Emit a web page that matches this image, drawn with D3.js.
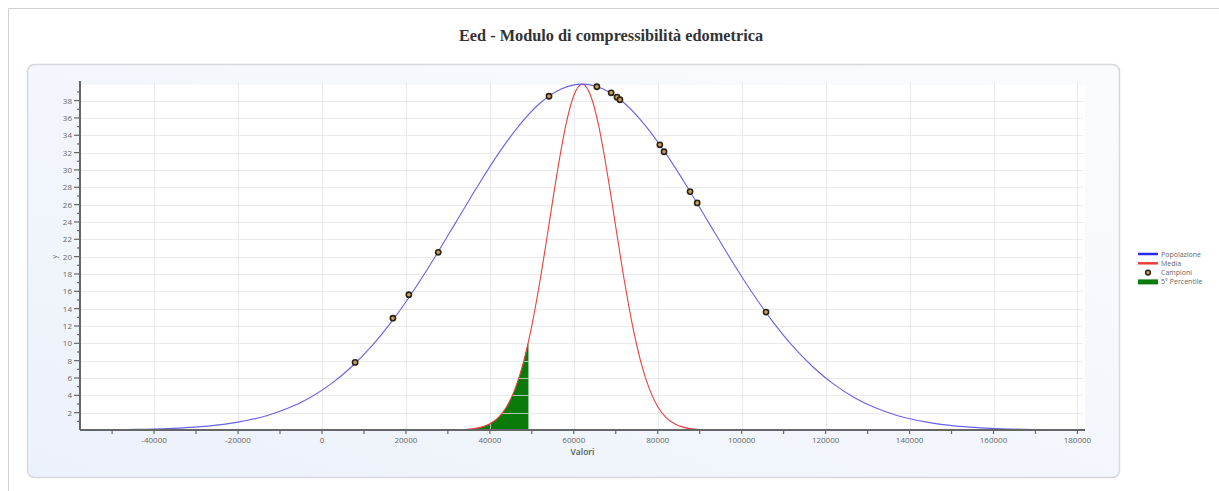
<!DOCTYPE html>
<html>
<head>
<meta charset="utf-8">
<style>
  body { margin: 0; background: #fff; }
  svg { display: block; font-family: "Open Sans", sans-serif; }
</style>
</head>
<body>
<svg width="1219" height="491"></svg>
<script src="https://d3js.org/d3.v7.min.js"></script>
<script>

// Popolazione (blue curve)
var popX = [-47000, -43000, -38000, -33000, -28000, -23000, -18000, -13000, -8000, -3000,
            2000, 7000, 12000, 17000, 22000, 27000, 32000, 37000, 42000, 47000, 52000, 57000,
            62000, 67000, 72000, 77000, 82000, 87000, 92000, 97000, 102000, 107000, 112000,
            117000, 122000, 127000, 132000, 137000, 142000, 147000, 152000, 157000, 162000,
            167000, 171000];
var popY = [0.05, 0.08, 0.14, 0.25, 0.42, 0.68, 1.09, 1.68, 2.53, 3.70,
            5.26, 7.27, 9.76, 12.76, 16.21, 20.02, 24.04, 28.06, 31.85, 35.15, 37.72, 39.34,
            39.9, 39.34, 37.72, 35.15, 31.85, 28.06, 24.04, 20.02, 16.21, 12.76, 9.76,
            7.27, 5.26, 3.70, 2.53, 1.68, 1.09, 0.68, 0.42, 0.25, 0.14,
            0.08, 0.05];

// Media (red curve)
var mediaX = [34000, 36000, 38000, 40000, 42000, 44000, 46000, 48000, 50000, 52000, 54000,
              56000, 58000, 60000, 62000, 64000, 66000, 68000, 70000, 72000, 74000, 76000,
              78000, 80000, 82000, 84000, 86000, 88000, 90000];
var mediaY = [0.06, 0.14, 0.33, 0.71, 1.43, 2.69, 4.74, 7.80, 12.03, 17.36, 23.42,
              29.57, 34.93, 38.59, 39.9, 38.59, 34.93, 29.57, 23.42, 17.36, 12.03, 7.80,
              4.74, 2.69, 1.43, 0.71, 0.33, 0.14, 0.06];

// 5° percentile (green area)
var pctX = [34000, 36000, 38000, 40000, 42000, 44000, 46000, 48000, 49200];
var pctY = [0.06, 0.14, 0.33, 0.71, 1.43, 2.69, 4.74, 7.80, 10.2];

// Campioni
var sampleX = [7900, 16900, 20700, 27700, 54100, 65500, 68900, 70300, 71000, 80500, 81500, 87700, 89400, 105800];
var sampleY = [7.8, 12.9, 15.6, 20.5, 38.5, 39.6, 38.9, 38.4, 38.1, 32.9, 32.1, 27.5, 26.2, 13.6];

var xTicks = d3.range(-40000, 180001, 20000);
var xMinor = d3.range(-50000, 180001, 10000);
var yTicks = d3.range(2, 39, 2);
var yMinor = d3.range(1, 40, 1);

var legendItems = ["Popolazione", "Media", "Campioni", "5° Percentile"];

var svg = d3.select("svg");

// outer frame
svg.append("path")
    .attr("d", "M8.5,491V8.5H1219")
    .attr("fill", "none")
    .attr("stroke", "#d0d0d0");

svg.append("text")
    .attr("x", 611).attr("y", 41)
    .attr("text-anchor", "middle")
    .style("font-family", "'Liberation Serif', serif")
    .style("font-weight", "bold")
    .style("font-size", "16.3px")
    .attr("fill", "#333")
    .text("Eed - Modulo di compressibilità edometrica");

var defs = svg.append("defs");
var grad = defs.append("linearGradient").attr("id", "bg")
    .attr("x1", "0").attr("y1", "1").attr("x2", "1").attr("y2", "0");
grad.append("stop").attr("offset", "0%").attr("stop-color", "#ecf2fb");
grad.append("stop").attr("offset", "100%").attr("stop-color", "#fafbfd");

svg.append("rect")
    .attr("x", 27.5).attr("y", 64.5)
    .attr("width", 1092).attr("height", 413)
    .attr("rx", 7)
    .attr("fill", "url(#bg)")
    .attr("stroke", "#d6d8dc")
    .attr("stroke-width", 1.5);

var plotL = 80, plotR = 1085, plotT = 85, plotB = 430;

var x = d3.scaleLinear().domain([-57650, 181800]).range([plotL, plotR]);
var y = d3.scaleLinear().domain([0, 39.8]).range([plotB, plotT]);

svg.append("rect")
    .attr("x", plotL).attr("y", plotT)
    .attr("width", plotR - plotL).attr("height", plotB - plotT)
    .attr("fill", "#fff");

// 5th percentile area
var area = d3.area()
    .x(function(d, i) { return x(pctX[i]); })
    .y0(y(0))
    .y1(function(d, i) { return y(pctY[i]); })
    .curve(d3.curveMonotoneX);

svg.append("path")
    .attr("d", area(pctX))
    .attr("fill", "#0a7a0a");

// grid
var grid = svg.append("g").attr("stroke", "#e2e4e8").attr("stroke-opacity", 0.75);
grid.selectAll(".h").data(yTicks).enter().append("line")
    .attr("x1", plotL).attr("x2", plotR - 2)
    .attr("y1", function(d) { return Math.round(y(d)) + 0.5; })
    .attr("y2", function(d) { return Math.round(y(d)) + 0.5; });
grid.selectAll(".v").data(xTicks).enter().append("line")
    .attr("y1", plotT - 3).attr("y2", plotB)
    .attr("x1", function(d) { return Math.round(x(d)) + 0.5; })
    .attr("x2", function(d) { return Math.round(x(d)) + 0.5; });

var line = d3.line()
    .x(function(d) { return x(d[0]); })
    .y(function(d) { return y(d[1]); })
    .curve(d3.curveMonotoneX);

svg.append("path")
    .datum(mediaX.map(function(v, i) { return [v, mediaY[i]]; }))
    .attr("d", line)
    .attr("fill", "none")
    .attr("stroke", "#e8403a")
    .attr("stroke-width", 1.1);

svg.append("path")
    .datum(popX.map(function(v, i) { return [v, popY[i]]; }))
    .attr("d", line)
    .attr("fill", "none")
    .attr("stroke", "#6a62e8")
    .attr("stroke-width", 1.1);

svg.selectAll(".pt")
    .data(sampleX)
    .enter().append("circle")
    .attr("cx", function(d) { return x(d); })
    .attr("cy", function(d, i) { return y(sampleY[i]); })
    .attr("r", 2.6)
    .attr("fill", "#c9a35a")
    .attr("stroke", "#2a2216")
    .attr("stroke-width", 1.6);

// axes
var xAxis = svg.append("g")
    .attr("transform", "translate(0," + plotB + ")");
xAxis.append("line")
    .attr("x1", plotL).attr("x2", plotR)
    .attr("stroke", "#666").attr("stroke-width", 2);
xAxis.selectAll(".mt").data(xMinor).enter().append("line")
    .attr("x1", function(d) { return x(d); })
    .attr("x2", function(d) { return x(d); })
    .attr("y1", -1).attr("y2", 4)
    .attr("stroke", "#666").attr("stroke-width", 1.2);
xAxis.selectAll(".lb").data(xTicks).enter().append("text")
    .attr("x", function(d) { return x(d); })
    .attr("y", 13)
    .attr("text-anchor", "middle")
    .attr("fill", "#666")
    .style("font-size", "8px")
    .text(function(d) { return d; });
xAxis.append("text")
    .attr("x", (plotL + plotR) / 2).attr("y", 25)
    .attr("text-anchor", "middle")
    .attr("fill", "#555")
    .style("font-size", "8.5px")
    .style("font-weight", "600")
    .text("Valori");

var yAxis = svg.append("g")
    .attr("transform", "translate(" + plotL + ",0)");
yAxis.append("line")
    .attr("y1", plotT - 4).attr("y2", plotB)
    .attr("stroke", "#666").attr("stroke-width", 2);
yAxis.selectAll(".mt").data(yMinor).enter().append("line")
    .attr("y1", function(d) { return y(d); })
    .attr("y2", function(d) { return y(d); })
    .attr("x1", function(d) { return d % 2 ? -3 : -6; }).attr("x2", 1)
    .attr("stroke", "#666").attr("stroke-width", 1.2);
yAxis.selectAll(".lb").data(yTicks).enter().append("text")
    .attr("x", -8)
    .attr("y", function(d) { return y(d) + 3; })
    .attr("text-anchor", "end")
    .attr("fill", "#666")
    .style("font-size", "8px")
    .text(function(d) { return d; });
yAxis.append("text")
    .attr("transform", "translate(-23," + y(20) + ") rotate(-90)")
    .attr("text-anchor", "middle")
    .attr("fill", "#666")
    .style("font-size", "7px")
    .text("y");

// legend
var legend = svg.append("g").attr("transform", "translate(1138,254)");
var item = legend.selectAll("g").data(legendItems).enter().append("g")
    .attr("transform", function(d, i) { return "translate(0," + (i * 9.3) + ")"; });
item.append("text")
    .attr("x", 23).attr("y", 2.5)
    .attr("fill", "#666")
    .style("font-size", "7px")
    .text(function(d) { return d; });
legend.append("line").attr("x1", 0).attr("x2", 20).attr("y1", 0).attr("y2", 0)
    .attr("stroke", "#2a2af0").attr("stroke-width", 2.5);
legend.append("line").attr("x1", 0).attr("x2", 20).attr("y1", 9.3).attr("y2", 9.3)
    .attr("stroke", "#e8403a").attr("stroke-width", 2.5);
legend.append("circle").attr("cx", 10).attr("cy", 18.6).attr("r", 2.4)
    .attr("fill", "#c9a35a").attr("stroke", "#2a2216").attr("stroke-width", 1.5);
legend.append("rect").attr("x", 0).attr("y", 25.4).attr("width", 20).attr("height", 5)
    .attr("fill", "#0a7a0a");

</script>
</body>
</html>
